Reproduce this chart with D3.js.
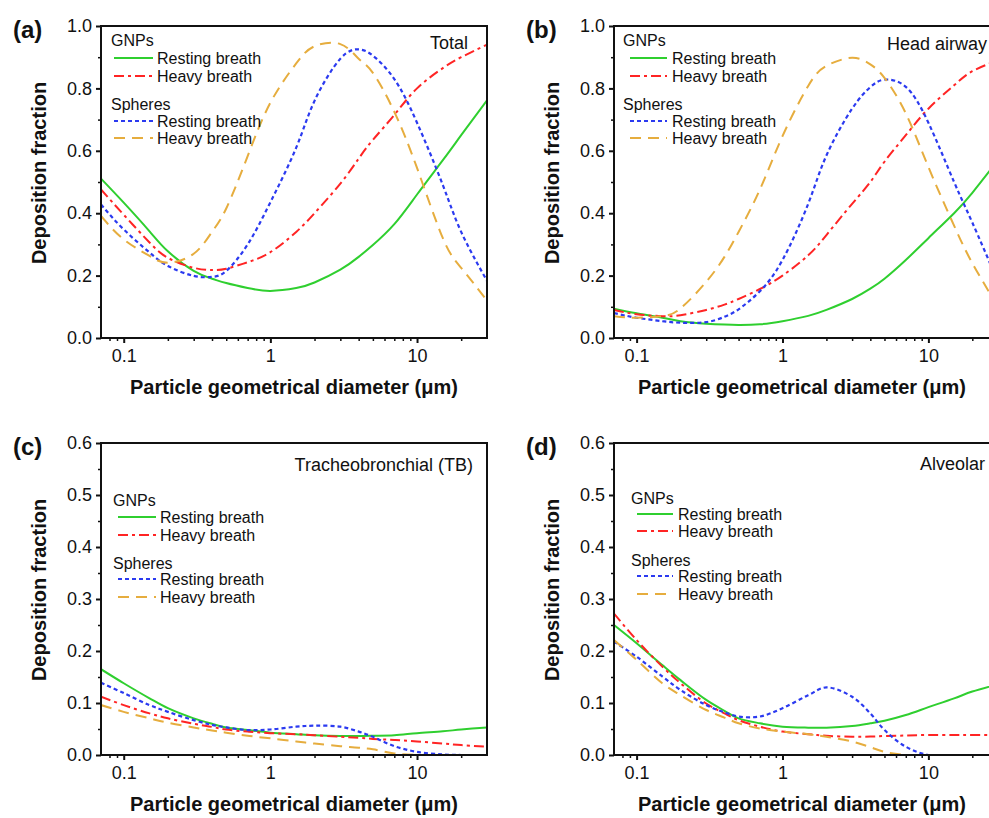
<!DOCTYPE html>
<html><head><meta charset="utf-8">
<script src="https://cdn.jsdelivr.net/npm/d3@7"></script>
<style>
html,body{margin:0;padding:0;background:#fff;overflow:hidden;}
text{font-family:"Liberation Sans",Arial,sans-serif;fill:#111;}
</style></head>
<body><svg id="c" width="989" height="818"></svg>
<script>
// Particle geometrical diameter (µm) sample points
const diameters = [0.07, 0.1, 0.15, 0.2, 0.3, 0.4, 0.5, 0.7, 1, 1.5, 2, 3, 4, 5, 7, 10, 15, 20, 30];

// (a) Total
const totalGnpRest   = [0.511,0.434,0.342,0.278,0.215,0.190,0.176,0.160,0.151,0.160,0.178,0.219,0.260,0.298,0.365,0.460,0.570,0.650,0.762];
const totalGnpHeavy  = [0.476,0.395,0.306,0.257,0.225,0.218,0.222,0.243,0.275,0.340,0.400,0.495,0.575,0.635,0.715,0.800,0.865,0.900,0.940];
const totalSphRest   = [0.428,0.348,0.274,0.231,0.199,0.196,0.215,0.300,0.435,0.610,0.760,0.895,0.925,0.905,0.830,0.690,0.490,0.340,0.183];
const totalSphHeavy  = [0.391,0.316,0.263,0.241,0.270,0.340,0.415,0.583,0.754,0.880,0.935,0.942,0.895,0.850,0.725,0.545,0.320,0.225,0.120];
// (b) Head airway
const headGnpRest    = [0.094,0.079,0.065,0.054,0.046,0.043,0.042,0.044,0.054,0.071,0.090,0.125,0.158,0.190,0.250,0.320,0.400,0.465,0.570];
const headGnpHeavy   = [0.090,0.076,0.070,0.073,0.090,0.107,0.125,0.157,0.200,0.265,0.330,0.430,0.500,0.565,0.650,0.735,0.810,0.855,0.890];
const headSphRest    = [0.080,0.065,0.054,0.049,0.051,0.068,0.092,0.150,0.250,0.430,0.585,0.735,0.804,0.828,0.805,0.690,0.500,0.370,0.180];
const headSphHeavy   = [0.070,0.065,0.070,0.095,0.180,0.260,0.340,0.476,0.647,0.808,0.872,0.898,0.877,0.834,0.720,0.548,0.360,0.240,0.100];
// (c) Tracheobronchial (TB)
const tbGnpRest      = [0.165,0.138,0.109,0.090,0.0705,0.060,0.053,0.048,0.043,0.040,0.038,0.0365,0.0365,0.037,0.038,0.042,0.0455,0.049,0.053];
const tbGnpHeavy     = [0.112,0.096,0.080,0.0705,0.060,0.054,0.049,0.045,0.042,0.040,0.038,0.035,0.033,0.031,0.029,0.026,0.022,0.019,0.016];
const tbSphRest      = [0.139,0.119,0.096,0.083,0.067,0.058,0.053,0.048,0.049,0.0545,0.0564,0.0545,0.045,0.035,0.017,0.006,0.001,0,0];
const tbSphHeavy     = [0.096,0.083,0.0705,0.062,0.053,0.047,0.043,0.037,0.032,0.026,0.022,0.017,0.014,0.011,0.003,0,0,0,0];
// (d) Alveolar
const alvGnpRest     = [0.250,0.215,0.173,0.144,0.106,0.085,0.0705,0.061,0.0545,0.0526,0.0526,0.0558,0.061,0.066,0.077,0.092,0.109,0.122,0.136];
const alvGnpHeavy    = [0.272,0.221,0.170,0.138,0.099,0.080,0.067,0.0545,0.045,0.040,0.037,0.035,0.0355,0.0365,0.0375,0.0385,0.0385,0.0385,0.038];
const alvSphRest     = [0.218,0.189,0.151,0.125,0.096,0.082,0.074,0.074,0.090,0.115,0.130,0.112,0.080,0.048,0.016,0,0,0,0];
const alvSphHeavy    = [0.221,0.183,0.138,0.115,0.0865,0.072,0.061,0.051,0.045,0.040,0.035,0.026,0.015,0.006,0,0,0,0,0];

const xMajorTicks = [0.1, 1, 10];
const xMinorTicks = [0.08,0.09,0.2,0.3,0.4,0.5,0.6,0.7,0.8,0.9,2,3,4,5,6,7,8,9,20];
const seriesNames = ["Resting breath","Heavy breath","Resting breath","Heavy breath"];
const groupNames = ["GNPs","Spheres"];
const panelLetters = ["(a)","(b)","(c)","(d)"];
const panelTitles = ["Total","Head airway","Tracheobronchial (TB)","Alveolar"];
const xTitle = "Particle geometrical diameter (\u03bcm)";
const yTitle = "Deposition fraction";

const styles = [
  {color:"#2fcf2f", dash:null, w:2},
  {color:"#ff2424", dash:"10,4,3,4", w:2},
  {color:"#2b3af0", dash:"4,3", w:2.2},
  {color:"#e6ad3e", dash:"11,7", w:2},
];

const panels = [
  {left:101,right:487,top:26,bottom:338,yMax:1.0,yMajor:0.2,data:[totalGnpRest,totalGnpHeavy,totalSphRest,totalSphHeavy],
   title:{x:468,y:49,anchor:"end"}, leg:{x:111,lx1:114,lx2:153,tx:157,rows:[40,58,76,104,121,138]}},
  {left:614,right:998,top:26,bottom:338,yMax:1.0,yMajor:0.2,data:[headGnpRest,headGnpHeavy,headSphRest,headSphHeavy],
   title:{x:887,y:50,anchor:"start"}, leg:{x:623,lx1:630,lx2:667,tx:672,rows:[40,58,76,104,121,138]}},
  {left:101,right:487,top:443,bottom:755,yMax:0.6,yMajor:0.1,data:[tbGnpRest,tbGnpHeavy,tbSphRest,tbSphHeavy],
   title:{x:473,y:471,anchor:"end"}, leg:{x:113,lx1:118,lx2:156,tx:160,rows:[500,517,535,563,579,597]}},
  {left:614,right:998,top:443,bottom:755,yMax:0.6,yMajor:0.1,data:[alvGnpRest,alvGnpHeavy,alvSphRest,alvSphHeavy],
   title:{x:920,y:470,anchor:"start"}, leg:{x:631,lx1:637,lx2:673,tx:678,rows:[498,514,531,560,576,594]}},
];

const svg = d3.select("#c");

panels.forEach((p,i)=>{
  const x = d3.scaleLog().domain([0.07,30]).range([p.left,p.right]);
  const y = d3.scaleLinear().domain([0,p.yMax]).range([p.bottom,p.top]);
  const g = svg.append("g");

  // curves
  const clipId = "clip"+i;
  svg.append("clipPath").attr("id",clipId).append("rect")
    .attr("x",p.left).attr("y",p.top-2).attr("width",p.right-p.left).attr("height",p.bottom-p.top+1);
  const curve = p.yMax > 0.8 ? d3.curveNatural : d3.curveCatmullRom.alpha(0.5);
  const line = d3.line().x((d,k)=>x(diameters[k])).y(d=>y(d)).curve(curve);
  p.data.forEach((arr,s)=>{
    g.append("path").attr("d",line(arr)).attr("fill","none")
      .attr("stroke",styles[s].color).attr("stroke-width",styles[s].w)
      .attr("stroke-dasharray",styles[s].dash).attr("clip-path",`url(#${clipId})`);
  });

  // frame
  g.append("rect").attr("x",p.left).attr("y",p.top).attr("width",p.right-p.left).attr("height",p.bottom-p.top)
    .attr("fill","none").attr("stroke","#111").attr("stroke-width",2);

  // y axis
  const yMajorVals = d3.range(0, p.yMax+1e-9, p.yMajor);
  const yMinorVals = d3.range(p.yMajor/2, p.yMax, p.yMajor);
  const yAx = g.append("g").attr("transform",`translate(${p.left},0)`)
    .call(d3.axisLeft(y).tickValues(yMajorVals).tickSize(5).tickPadding(4).tickFormat(d3.format(".1f")));
  yAx.select(".domain").remove();
  yAx.selectAll("line").attr("stroke","#111").attr("stroke-width",2);
  yAx.selectAll("text").attr("font-size",18).attr("font-family","Liberation Sans, Arial, sans-serif").attr("fill","#111");
  const yMin = g.append("g").attr("transform",`translate(${p.left},0)`)
    .call(d3.axisLeft(y).tickValues(yMinorVals).tickSize(3).tickFormat(""));
  yMin.select(".domain").remove();
  yMin.selectAll("line").attr("stroke","#111").attr("stroke-width",1.5);

  // x axis
  const xAx = g.append("g").attr("transform",`translate(0,${p.bottom})`)
    .call(d3.axisBottom(x).tickValues(xMajorTicks).tickSize(5).tickPadding(6).tickFormat(d3.format("~g")));
  xAx.select(".domain").remove();
  xAx.selectAll("line").attr("stroke","#111").attr("stroke-width",2);
  xAx.selectAll("text").attr("font-size",18).attr("font-family","Liberation Sans, Arial, sans-serif").attr("fill","#111");
  const xMin = g.append("g").attr("transform",`translate(0,${p.bottom})`)
    .call(d3.axisBottom(x).tickValues(xMinorTicks).tickSize(3).tickFormat(""));
  xMin.select(".domain").remove();
  xMin.selectAll("line").attr("stroke","#111").attr("stroke-width",1.5);

  // axis titles
  g.append("text").attr("x",(p.left+p.right)/2 + (i%2? -4:0)).attr("y",p.bottom+56)
    .attr("text-anchor","middle").attr("font-size",20).attr("font-weight","bold").text(xTitle);
  const yc = (p.top+p.bottom)/2 - 9;
  g.append("text").attr("transform",`translate(${p.left-62},${yc}) rotate(-90)`)
    .attr("dy","0.35em").attr("text-anchor","middle").attr("font-size",20).attr("font-weight","bold").text(yTitle);

  // panel letter
  g.append("text").attr("x",p.left-88).attr("y",p.top+12).attr("font-size",24).attr("font-weight","bold")
    .text(panelLetters[i]);

  // panel title
  g.append("text").attr("x",p.title.x).attr("y",p.title.y).attr("text-anchor",p.title.anchor)
    .attr("font-size",18).text(panelTitles[i]);

  // legend
  const L = p.leg;
  g.append("text").attr("x",L.x).attr("y",L.rows[0]+6).attr("font-size",16).text(groupNames[0]);
  g.append("text").attr("x",L.x).attr("y",L.rows[3]+6).attr("font-size",16).text(groupNames[1]);
  [1,2,4,5].forEach((r,s)=>{
    g.append("line").attr("x1",L.lx1).attr("x2",L.lx2).attr("y1",L.rows[r]).attr("y2",L.rows[r])
      .attr("stroke",styles[s].color).attr("stroke-width",styles[s].w).attr("stroke-dasharray",styles[s].dash);
    g.append("text").attr("x",L.tx).attr("y",L.rows[r]+6).attr("font-size",16).text(seriesNames[s]);
  });
});
</script></body></html>
